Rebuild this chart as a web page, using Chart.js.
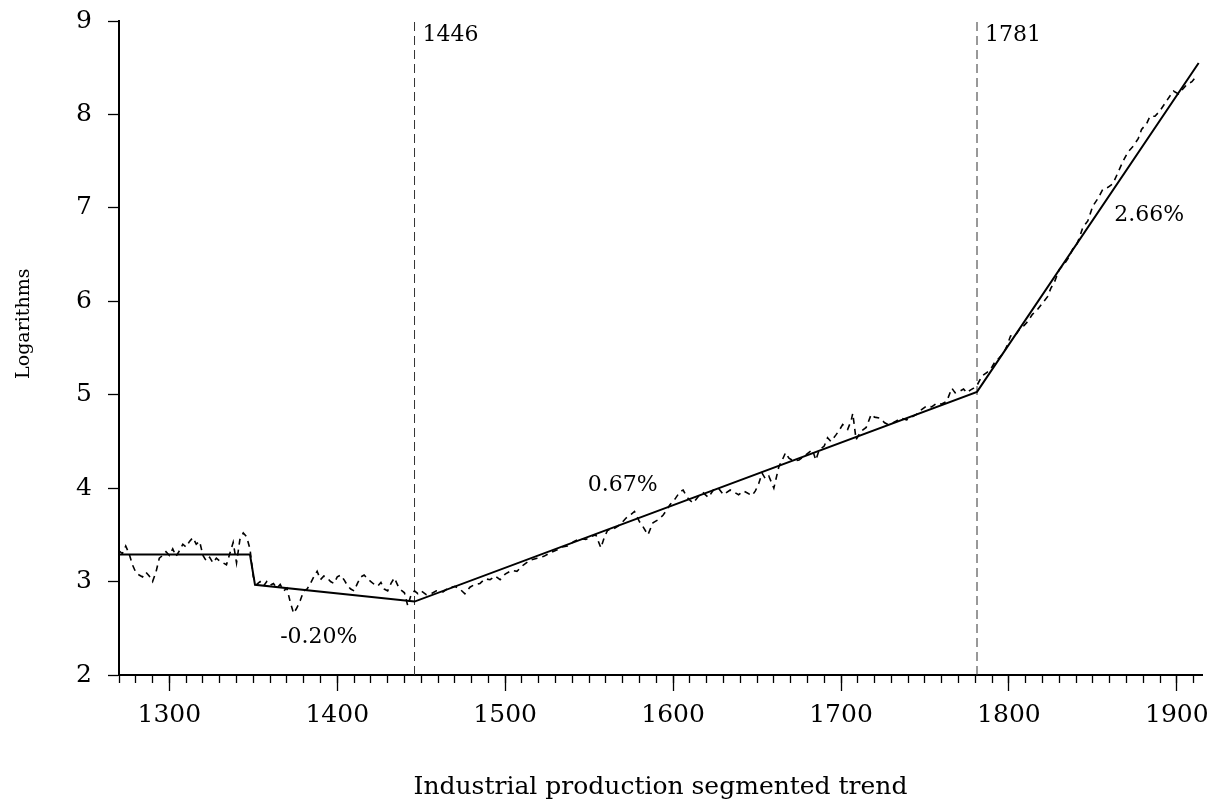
<!DOCTYPE html>
<html>
<head>
<meta charset="utf-8">
<script src="https://cdn.jsdelivr.net/npm/chart.js@4/dist/chart.umd.min.js"></script>
<style>
	body { margin: 0; background: #fff; }
	#wrap { width: 1223px; height: 812px; }
</style>
</head>
<body>
<div id="wrap"><canvas id="myChart" width="1223" height="812"></canvas></div>
<script>
// industrial production, logs (dashed)
const years = [
	1270,1272,1274,1276,1278,1280,1282,1284,1286,1288,1290,1292,1294,1296,1298,
	1300,1302,1304,1306,1308,1310,1312,1314,1316,1318,1320,1322,1324,1326,1328,
	1330,1332,1334,1336,1338,1340,1342,1344,1346,1348,1350,1352,1354,1356,1358,
	1360,1362,1364,1366,1368,1370,1372,1374,1376,1378,1380,1382,1384,1386,1388,
	1390,1392,1394,1396,1398,1400,1402,1404,1406,1408,1410,1412,1414,1416,1418,
	1420,1422,1424,1426,1428,1430,1432,1434,1436,1438,1440,1442,1444,1446,1448,
	1450,1453,1456,1459,1463,1466,1470,1473,1476,1479,1482,1485,1488,1491,1494,
	1497,1500,1504,1507,1511,1515,1519,1523,1527,1531,1534,1537,1541,1545,1548,
	1551,1554,1557,1559,1561,1564,1567,1570,1572,1575,1577,1580,1582,1585,1588,
	1591,1594,1596,1598,1601,1604,1606,1608,1610,1612,1615,1618,1621,1624,1627,
	1630,1634,1637,1639,1642,1644,1647,1649,1651,1653,1655,1657,1660,1663,1665,
	1667,1669,1672,1675,1678,1680,1683,1685,1687,1690,1692,1694,1697,1699,1701,
	1704,1706,1707,1709,1712,1715,1718,1720,1723,1726,1728,1731,1733,1736,1739,
	1742,1745,1748,1751,1754,1757,1760,1763,1766,1768,1771,1773,1775,1777,1779,
	1781,1784,1787,1790,1792,1794,1797,1799,1801,1804,1807,1809,1811,1814,1817,
	1820,1823,1825,1827,1830,1833,1836,1838,1840,1842,1844,1847,1850,1853,1856,
	1859,1862,1865,1868,1871,1874,1877,1879,1882,1884,1887,1890,1893,1896,1898,
	1901,1904,1906,1909,1912
];
const logOutput = [
	3.33,3.30,3.38,3.30,3.18,3.10,3.07,3.05,3.10,3.06,3.00,3.10,3.25,3.28,3.32,
	3.28,3.35,3.27,3.33,3.40,3.37,3.43,3.47,3.40,3.43,3.28,3.22,3.26,3.20,3.25,
	3.22,3.20,3.18,3.30,3.42,3.20,3.45,3.52,3.48,3.35,3.05,2.97,3.00,2.95,3.00,
	2.96,2.98,2.93,2.97,2.90,2.93,2.78,2.66,2.72,2.80,2.90,2.92,2.98,3.05,3.11,
	3.02,3.06,3.04,3.00,2.98,3.05,3.07,3.02,2.96,2.92,2.90,2.98,3.05,3.07,3.03,
	3.00,2.97,2.95,2.99,2.92,2.90,2.98,3.04,2.96,2.91,2.88,2.74,2.86,2.90,2.87,
	2.90,2.86,2.87,2.90,2.89,2.93,2.95,2.92,2.87,2.94,2.97,2.98,3.03,3.02,3.06,
	3.02,3.08,3.12,3.11,3.18,3.23,3.25,3.27,3.31,3.34,3.37,3.38,3.43,3.46,3.45,
	3.48,3.50,3.36,3.47,3.55,3.56,3.59,3.64,3.68,3.72,3.75,3.64,3.59,3.50,3.63,
	3.66,3.71,3.76,3.82,3.88,3.96,3.98,3.91,3.87,3.84,3.91,3.95,3.90,3.98,4.00,
	3.93,3.98,3.95,3.93,3.97,3.95,3.92,3.97,4.05,4.16,4.10,4.13,4.00,4.23,4.30,
	4.38,4.32,4.29,4.30,4.34,4.37,4.41,4.30,4.41,4.45,4.54,4.50,4.57,4.62,4.68,
	4.63,4.72,4.80,4.52,4.61,4.65,4.79,4.76,4.75,4.70,4.68,4.70,4.72,4.75,4.73,
	4.76,4.79,4.84,4.88,4.87,4.91,4.90,4.93,5.07,5.02,5.04,5.06,5.02,5.05,5.07,
	5.10,5.20,5.24,5.30,5.36,5.39,5.45,5.53,5.63,5.64,5.72,5.74,5.78,5.86,5.91,
	5.98,6.05,6.14,6.20,6.34,6.40,6.48,6.56,6.59,6.68,6.79,6.86,7.02,7.10,7.20,
	7.22,7.26,7.38,7.50,7.60,7.66,7.74,7.84,7.90,7.98,7.98,8.04,8.12,8.20,8.25,
	8.22,8.28,8.32,8.35,8.42
];

// segmented trend (solid)
const trendYears = [1270, 1348, 1351, 1446, 1781, 1913];
const trendValues = [3.29, 3.29, 2.965, 2.786, 5.03, 8.55];

const breakYears = [1446, 1781];
const rateNotes = [
	['-0.20%', 1389, 2.40],
	['0.67%', 1570, 4.03],
	['2.66%', 1883.5, 6.92]
];

const FONT = 'DejaVu Serif';
const xMin = 1270, xMax = 1915;

let pts = (xs, ys) => xs.map((x, i) => ({x: x, y: ys[i]}));

// text labels (break years, growth rates, y title)
const notesPlugin = {
	id: 'notes',
	afterDatasetsDraw(chart) {
		const ctx = chart.ctx;
		const xs = chart.scales.x, ys = chart.scales.y;
		ctx.save();
		ctx.fillStyle = '#000';
		ctx.font = '22px "' + FONT + '"';
		ctx.textBaseline = 'middle';
		ctx.textAlign = 'left';
		breakYears.forEach(b => {
			ctx.fillText(String(b), xs.getPixelForValue(b) + 8, ys.getPixelForValue(8.85));
		});
		ctx.textAlign = 'center';
		rateNotes.forEach(n => {
			ctx.fillText(n[0], xs.getPixelForValue(n[1]), ys.getPixelForValue(n[2]));
		});
		// y title sits a bit above the middle of the axis in the original
		ctx.font = '19px "' + FONT + '"';
		ctx.translate(24, ys.getPixelForValue(5.76));
		ctx.rotate(-Math.PI / 2);
		ctx.fillText('Logarithms', 0, 0);
		ctx.restore();
	}
};

let datasets = [{
	label: 'Industrial production',
	data: pts(years, logOutput),
	borderColor: '#000',
	borderWidth: 1.6,
	borderDash: [6, 5],
	pointRadius: 0,
	tension: 0
}, {
	label: 'Segmented trend',
	data: pts(trendYears, trendValues),
	borderColor: '#000',
	borderWidth: 2,
	pointRadius: 0,
	tension: 0
}];
breakYears.forEach(b => {
	datasets.push({
		label: 'break ' + b,
		data: [{x: b, y: 2}, {x: b, y: 9}],
		borderColor: '#333',
		borderWidth: 1,
		borderDash: [9, 5],
		pointRadius: 0
	});
});

let myChart = new Chart(document.getElementById('myChart'), {
	type: 'line',
	data: {datasets: datasets},
	plugins: [notesPlugin],
	options: {
		responsive: false,
		animation: false,
		layout: {padding: {left: 0, right: 21, top: 21, bottom: 0}},
		plugins: {
			legend: {display: false},
			tooltip: {enabled: false}
		},
		scales: {
			x: {
				type: 'linear',
				min: xMin, max: xMax,
				afterBuildTicks: s => { s.ticks = s.ticks.filter(t => t.value % 100 === 0); },
				afterFit: s => { s.height = 812 - 675; },
				ticks: {stepSize: 100, includeBounds: false, color: '#000', padding: 9, maxRotation: 0,
					font: {family: FONT, size: 25}, callback: v => String(v)},
				grid: {drawOnChartArea: false, tickLength: 16, tickWidth: 1.3, tickColor: '#000'},
				border: {color: '#000', width: 2},
				title: {display: true, text: 'Industrial production segmented trend', color: '#000',
					font: {family: FONT, size: 25}, padding: {top: 0, bottom: 9.5}}
			},
			xMinor: {
				type: 'linear', axis: 'x',
				position: {y: 2},
				min: xMin, max: xMax,
				afterBuildTicks: s => { s.ticks = s.ticks.filter(t => t.value % 10 === 0); },
				ticks: {stepSize: 10, includeBounds: false, display: false},
				grid: {drawOnChartArea: false, tickLength: 8, tickWidth: 1.3, tickColor: '#000'},
				border: {display: false}
			},
			y: {
				min: 2, max: 9,
				afterFit: s => { s.width = 119; s.paddingTop = 0; s.paddingBottom = 0; },
				ticks: {stepSize: 1, color: '#000', padding: 16,
					font: {family: FONT, size: 25}},
				grid: {drawOnChartArea: false, tickLength: 11, tickWidth: 1.3, tickColor: '#000'},
				border: {color: '#000', width: 2}
			}
		}
	}
});
</script>
</body>
</html>
